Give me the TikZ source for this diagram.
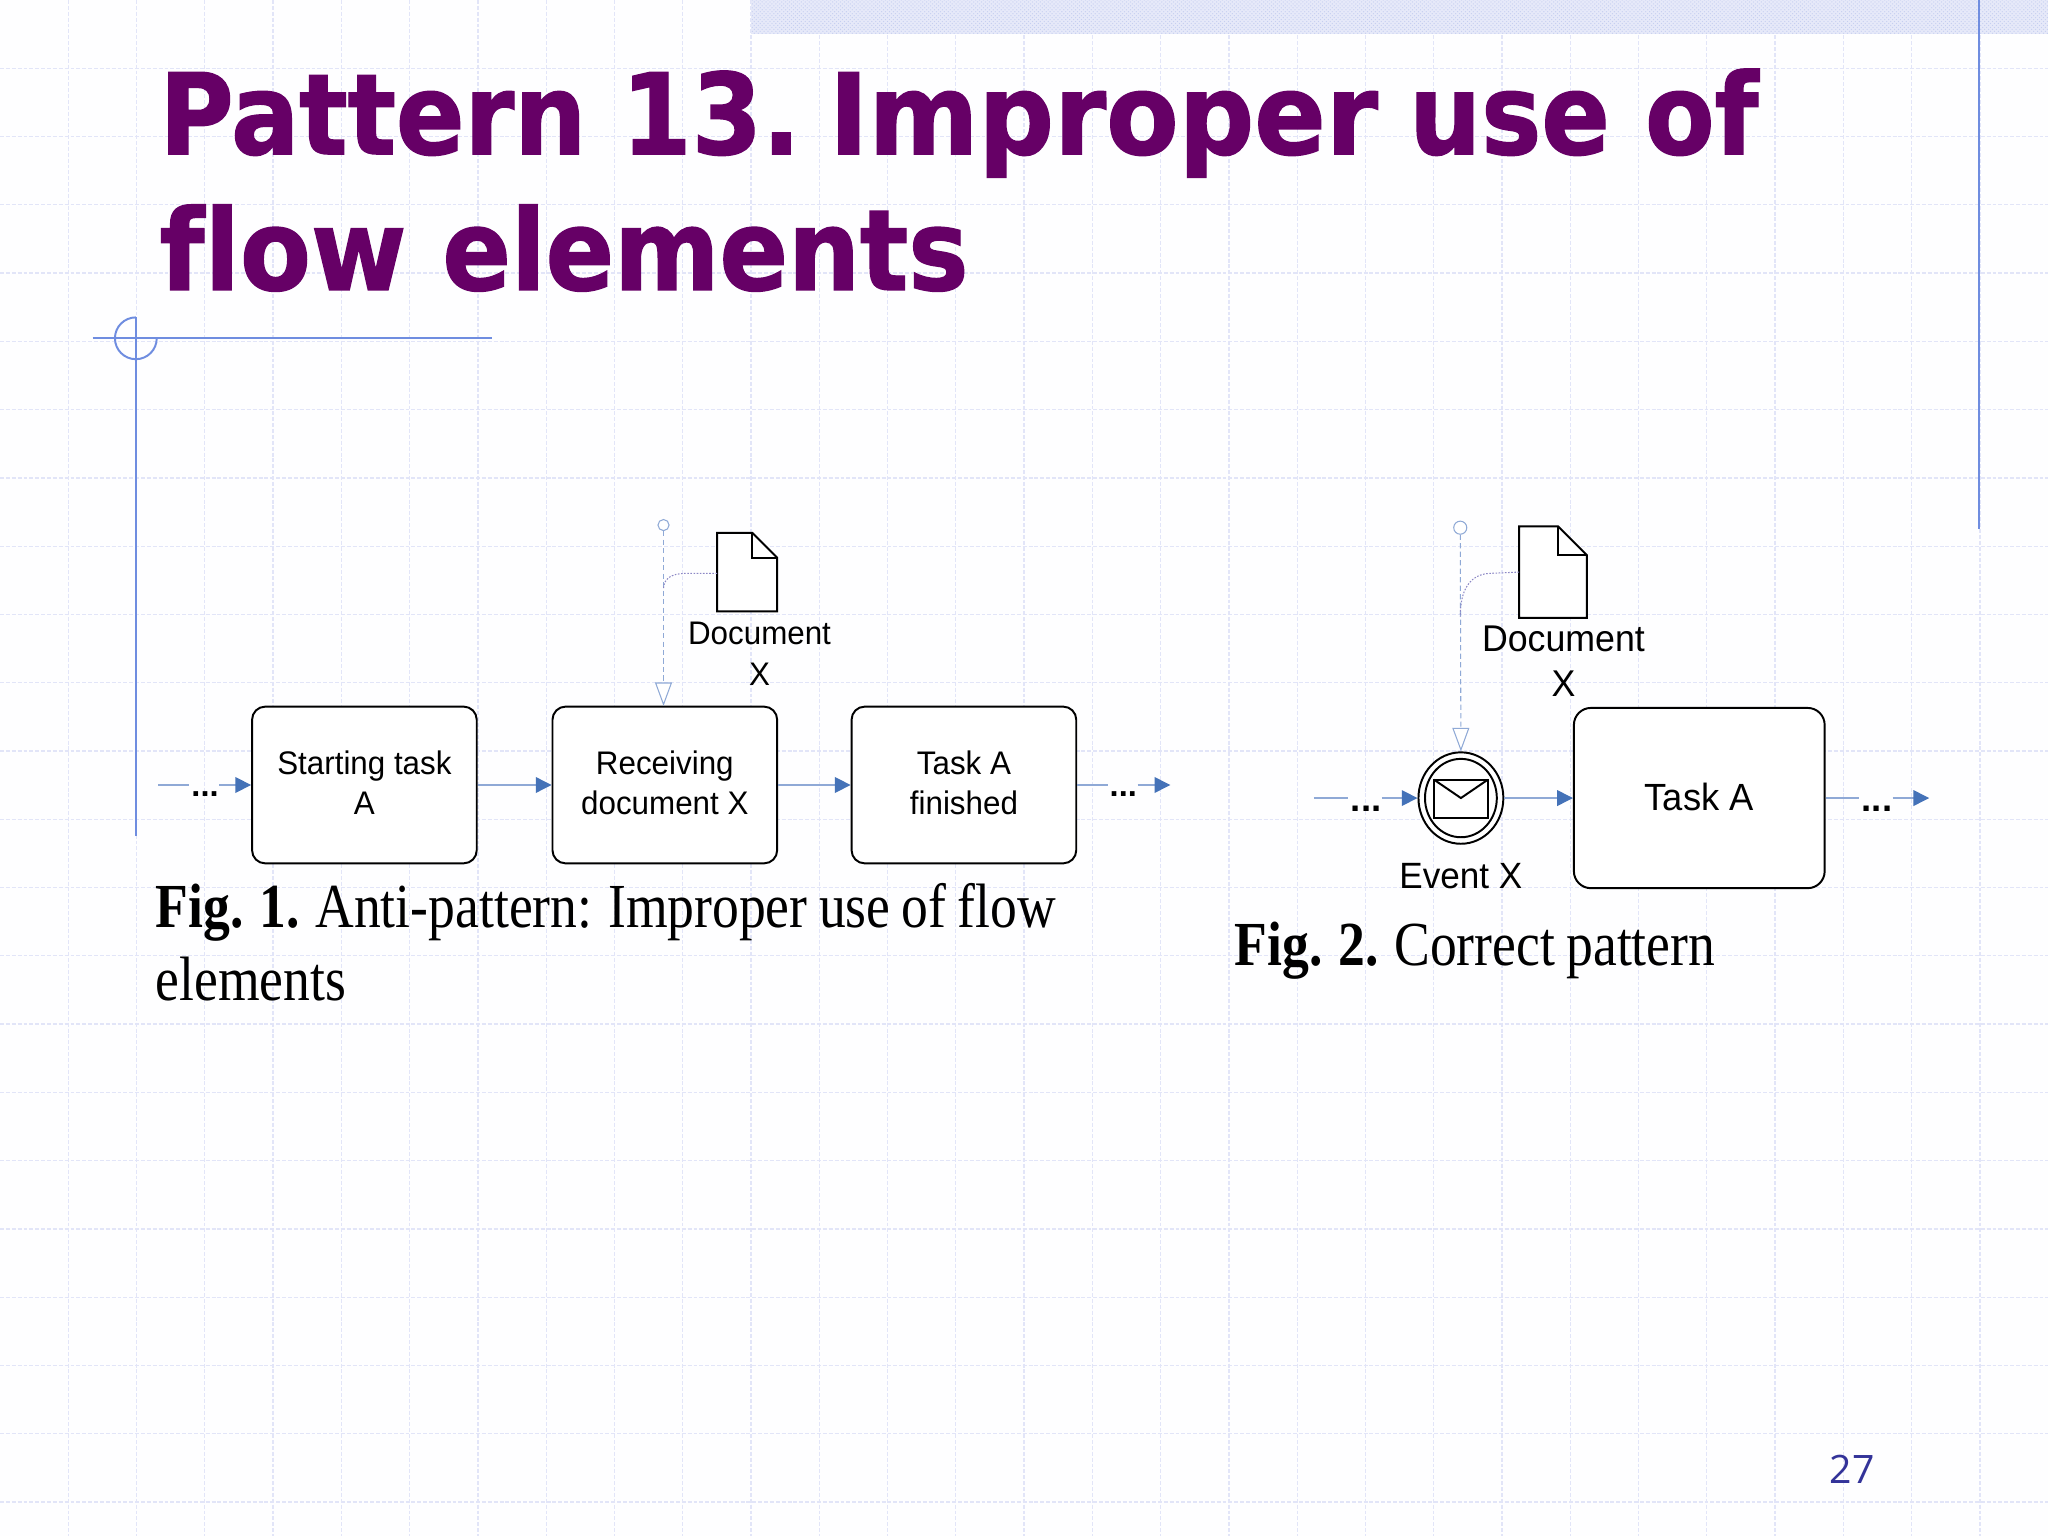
\documentclass[tikz,border=0pt]{standalone}
\usepackage{fontspec}
\usetikzlibrary{arrows.meta,calc,shapes.geometric,patterns}
\setmainfont{Liberation Sans}
\newfontfamily\diagf[FakeStretch=0.96]{Liberation Sans}
\newfontfamily\titlef[FakeStretch=0.9,FakeBold=1.2,Ligatures=NoCommon]{DejaVu Sans Bold}
\newfontfamily\titleg[FakeStretch=0.94,FakeBold=1.2,Ligatures=NoCommon]{DejaVu Sans Bold}
\newfontfamily\titleh[FakeStretch=0.92,FakeBold=1.2,Ligatures=NoCommon]{DejaVu Sans Bold}
\newfontfamily\capf[FakeStretch=0.855,WordSpace=0.85,Ligatures=NoCommon]{Liberation Serif}
\newfontfamily\numf{Open Sans}
\definecolor{gridc}{HTML}{E2E5F8}
\definecolor{bandc}{HTML}{E6E9F9}
\definecolor{bandp}{HTML}{C6CFF0}
\definecolor{framec}{HTML}{6F8DE0}
\definecolor{flowl}{HTML}{8FA9D6}
\definecolor{flowt}{HTML}{4472B8}
\definecolor{assoc}{HTML}{8FA9D6}
\definecolor{titlec}{HTML}{660066}
\definecolor{numc}{HTML}{333399}
\tikzset{
  gridline/.style={gridc,line width=1pt,dash pattern=on 3pt off 1.5pt},
  frameline/.style={framec,line width=1.5pt},
  taskbox/.style={draw=black,fill=white,line width=1.5pt,rounded corners=10pt,minimum width=172pt,minimum height=120pt,inner sep=0pt,align=center,font=\diagf\fontsize{25}{30.5}\selectfont},
  label1/.style={align=center,inner sep=0pt,font=\diagf\fontsize{25}{31}\selectfont},
  label2/.style={align=center,inner sep=0pt,font=\diagf\fontsize{28.5}{34.5}\selectfont},
  dotsn/.style={inner sep=0pt,anchor=base,font=\fontsize{25}{25}\selectfont\bfseries},
  flow/.style={flowl,line width=1pt},
  flowa/.style={flow,-{Triangle[length=12pt,width=12pt,color=flowt]}},
  assoca/.style={assoc,line width=.8pt,dash pattern=on 4pt off 2.5pt,-{Triangle[open,length=18pt,width=13pt,fill=white,color=assoc]}},
  assocd/.style={assoc!80!violet,line width=.8pt,dash pattern=on 1.2pt off 1.2pt},
  assocc/.style={circle,draw=assoc,line width=.8pt,fill=white,inner sep=0pt,minimum size=8.5pt},
  docshape/.style={draw=black,fill=white,line width=1.5pt,line join=miter},
  capt/.style={anchor=base west,inner sep=0pt,text=black,font=\capf\fontsize{48}{56}\selectfont},
  titlet/.style={anchor=base west,inner sep=0pt,text=titlec,font=\titlef\fontsize{86}{100}\selectfont}
}
\begin{document}
\begin{tikzpicture}[x=1pt,y=-1pt]
\useasboundingbox (0,0) rectangle (1568,1176);
\fill[white!97!gridc] (0,0) rectangle (1568,1176);
% grid
\foreach \i in {1,...,29}{\draw[gridline] ({52.27*\i},0) -- ({52.27*\i},1176);}
\foreach \j in {1,...,22}{\draw[gridline] (0,{52.27*\j}) -- (1568,{52.27*\j});}
% band
\fill[bandc] (575,0) rectangle (1568,26);
\fill[pattern=crosshatch dots,pattern color=bandp] (575,0) rectangle (1568,26);
% frame
\draw[frameline] (71,259) -- (377,259);
\draw[frameline] (104,243) -- (104,640);
\draw[frameline] (104,243) arc[start angle=90,end angle=360,x radius=16pt,y radius=16pt];
\draw[frameline] (1515.5,0) -- (1515.5,405);
% title
\node[titlet] (t1) at (122,118) {Pattern 13.\kern-5pt\ {\titleg\fontsize{86}{100}\selectfont Improper}\kern-3pt\ use of};
\node[titlet,font=\titleh\fontsize{86}{100}\selectfont] (t2) at (122,222) {flow {\titlef\fontsize{86}{100}\selectfont elements}};
% Figure 1
\node[taskbox] (a) at (279,601) {Starting task\\A\\[-27.5pt]\mbox{}};
\node[taskbox] (b) at (509,601) {Receiving\\document X\\[-27.5pt]\mbox{}};
\node[taskbox] (c) at (738,601) {Task A\\finished\\[-27.5pt]\mbox{}};
\coordinate (a0) at (121,601);
\coordinate (a1) at (145,601);
\coordinate (a2) at (168,601);
\node[dotsn] (d1) at (157,610) {...};
\draw[flow] (a0) -- (a1);
\draw[flowa] (a2) -- (a.west);
\draw[flowa] (a.east) -- (b.west);
\draw[flowa] (b.east) -- (c.west);
\coordinate (c1) at (848,601);
\coordinate (c2) at (871,601);
\coordinate (c3) at (896,601);
\node[dotsn] (d2) at (860,610) {...};
\draw[flow] (c.east) -- (c1);
\draw[flowa] (c2) -- (c3);
% document 1
\draw[docshape] (549,408) -- (576,408) -- (595,427) -- (595,468) -- (549,468) -- cycle;
\draw[docshape,fill=none] (576,408) -- (576,427) -- (595,427);
\coordinate (doc1l) at (549,439);
\node[label1] (l1) at (581.5,500.5) {Document\\X};
\node[assocc] (o1) at (508,402) {};
\coordinate (b1) at (508,540.5);
\draw[assoca] (o1) -- (b1);
\draw[assocd] (doc1l) -- (525,439) .. controls (514,439) and (508,443) .. (508,451);
% Figure 2
\node[draw=black,fill=white,line width=1.5pt,ellipse,minimum width=65pt,minimum height=70pt,inner sep=0pt] (e) at (1118.5,611) {};
\node[draw=black,line width=1.5pt,ellipse,minimum width=55pt,minimum height=60pt,inner sep=0pt] (ei) at (1118.5,611) {};
\draw[black,line width=1.5pt,fill=white] (1098,597) rectangle (1139,626);
\draw[black,line width=1.5pt] (1098,597) -- (1118.5,611) -- (1139,597);
\node[taskbox,minimum width=192pt,minimum height=138pt,rounded corners=13pt,font=\diagf\fontsize{29}{34}\selectfont] (f) at (1301,611) {Task A\\[-32pt]\mbox{}};
\coordinate (e0) at (1006,611);
\coordinate (e1) at (1032,611);
\coordinate (e2) at (1058,611);
\node[dotsn,font=\fontsize{28}{28}\selectfont\bfseries] (d3) at (1046,621) {...};
\draw[flow] (e0) -- (e1);
\draw[flowa] (e2) -- (e.west);
\draw[flowa] (e.east) -- (f.west);
\coordinate (f1) at (1423,611);
\coordinate (f2) at (1449,611);
\coordinate (f3) at (1477,611);
\node[dotsn,font=\fontsize{28}{28}\selectfont\bfseries] (d4) at (1437,621) {...};
\draw[flow] (f.east) -- (f1);
\draw[flowa] (f2) -- (f3);
\draw[docshape] (1163,403) -- (1193,403) -- (1215,425) -- (1215,473) -- (1163,473) -- cycle;
\draw[docshape,fill=none] (1193,403) -- (1193,425) -- (1215,425);
\coordinate (doc2l) at (1163,438);
\node[label2] (l2) at (1197,506) {Document\\X};
\node[assocc,minimum size=10pt] (o2) at (1118,404) {};
\draw[assoca] (o2) -- (e.north);
\draw[assocd] (doc2l) -- (1140,439) .. controls (1125,440) and (1118,452) .. (1118,472);
\node[label1,font=\diagf\fontsize{28}{32}\selectfont] (l3) at (1118.5,671) {Event X};
% captions
\node[capt] (cap1) at (119,710) {\bfseries Fig. 1. \mdseries Anti-pattern: Improper use of flow};
\node[capt] (cap1b) at (119,766) {elements};
\node[capt] (cap2) at (945,739) {\bfseries Fig. 2. \mdseries Correct pattern};
% page number
\node[inner sep=0pt,text=numc,font=\numf\fontsize{30}{30}\selectfont] (num) at (1418,1125) {27};
\end{tikzpicture}
\end{document}
